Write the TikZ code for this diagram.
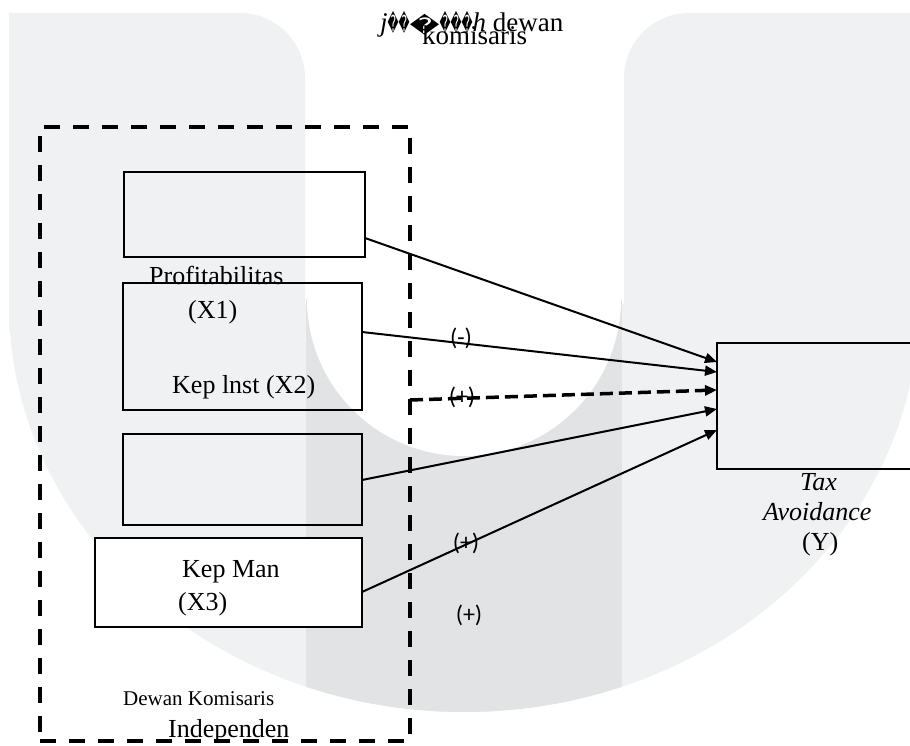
\documentclass[tikz,border=0pt]{standalone}
\usepackage{graphicx}
\usepackage{fontspec}
\setmainfont{Liberation Serif}
\newfontfamily\carl{Carlito}
\newfontfamily\djv{DejaVu Sans}
\usetikzlibrary{arrows.meta}
\definecolor{wmlight}{HTML}{F0F1F3}
\definecolor{wmdark}{HTML}{E2E3E5}
\newcommand{\nrwglyph}{\resizebox*{11pt}{22pt}{\djv\symbol{"FFFD}}}
\newcommand{\bigglyph}{\raisebox{-2pt}{\resizebox*{30pt}{21pt}{\djv\symbol{"FFFD}}}}
\begin{document}
\begin{tikzpicture}[x=1pt,y=-1pt,
  box/.style={draw, line width=2pt, inner sep=0pt, outer sep=0pt},
  dbox/.style={draw, line width=4pt, dash pattern=on 16pt off 13pt, inner sep=0pt, outer sep=0pt},
  arr/.style={line width=2pt, -{Triangle[length=12pt,width=10pt]}},
  darr/.style={line width=3.5pt, dash pattern=on 13pt off 6pt, -{Triangle[length=12pt,width=10pt]}},
  lbl/.style={anchor=base west, inner sep=0pt, font=\fontsize{26}{30}\selectfont},
  sgn/.style={inner sep=0pt, font=\carl\fontsize{24}{28}\selectfont}]
\useasboundingbox (0,0) rectangle (910,745);
\clip (0,0) rectangle (910,745);
% watermark
\fill[wmlight] (919,304) arc[start angle=0, end angle=180, x radius=455, y radius=408] -- cycle;
\fill[wmlight] (9,330) -- (9,13) -- (240,13) arc[start angle=-90, end angle=0, radius=65] -- (305,330) -- cycle;
\fill[wmlight] (919,330) -- (919,13) -- (689,13) arc[start angle=-90, end angle=-180, radius=65] -- (624,330) -- cycle;
\begin{scope}
  \clip (919,290) -- (919,304) arc[start angle=0, end angle=180, x radius=455, y radius=408] -- (9,290) -- cycle;
  \fill[wmdark] (306,290) rectangle (622,745);
\end{scope}
\fill[white] (306,0) rectangle (622,299);
\fill[white] (464,299) circle[radius=157];
% boxes
\node[box, anchor=north west, minimum width=241pt, minimum height=85pt] (b1) at (124,172) {};
\node[box, anchor=north west, minimum width=239pt, minimum height=127pt] (b2) at (123,283) {};
\node[box, anchor=north west, minimum width=239pt, minimum height=91pt] (b3) at (123,434) {};
\node[box, fill=white, anchor=north west, minimum width=267pt, minimum height=89pt] (b4) at (95,538) {};
\node[box, anchor=north west, minimum width=220pt, minimum height=126pt] (Y) at (717,343) {};
\node[dbox, anchor=north west, minimum width=370pt, minimum height=614pt] (grp) at (40,127) {};
% connectors
\draw[arr] (b1.east |- 0,238) -- (Y.west |- 0,362);
\draw[arr] (b2.east |- 0,332) -- (Y.west |- 0,372);
\draw[darr] (grp.east |- 0,400) -- (Y.west |- 0,390);
\draw[arr] (b3.east |- 0,480) -- (Y.west |- 0,409);
\draw[arr] (b4.east |- 0,592) -- (Y.west |- 0,430);
% texts
\node[lbl] (tprof) at (149,284) {Profitabilitas};
\node[lbl] (tx1) at (188,318) {(X1)};
\node[lbl] (tx2) at (172,393) {Kep lnst (X2)};
\node[lbl] (tkm) at (182,577) {Kep Man};
\node[lbl] (tx3) at (178,610) {(X3)};
\node[lbl, font=\fontsize{21}{24}\selectfont] (tdk) at (123,705) {Dewan Komisaris};
\node[lbl] (tind) at (168,737) {Independen};
\node[lbl] (ttax) at (800,490) {\textit{Tax}};
\node[lbl] (tavo) at (763,520) {\textit{Avoidance}};
\node[lbl] (ty) at (802,550) {(Y)};
\node[lbl, font=\fontsize{27}{30}\selectfont] (ttitle) at (380,31) {\textit{j}\nrwglyph\nrwglyph\bigglyph\nrwglyph\nrwglyph\nrwglyph\textit{h} dewan};
\node[lbl, font=\fontsize{27}{30}\selectfont] (ttitle2) at (422,44) {komisaris};
\node[sgn] (s1) at (461,338) {(-)};
\node[sgn] (s2) at (462,397) {(+)};
\node[sgn] (s3) at (466,543) {(+)};
\node[sgn] (s4) at (469,615) {(+)};
\end{tikzpicture}
\end{document}
